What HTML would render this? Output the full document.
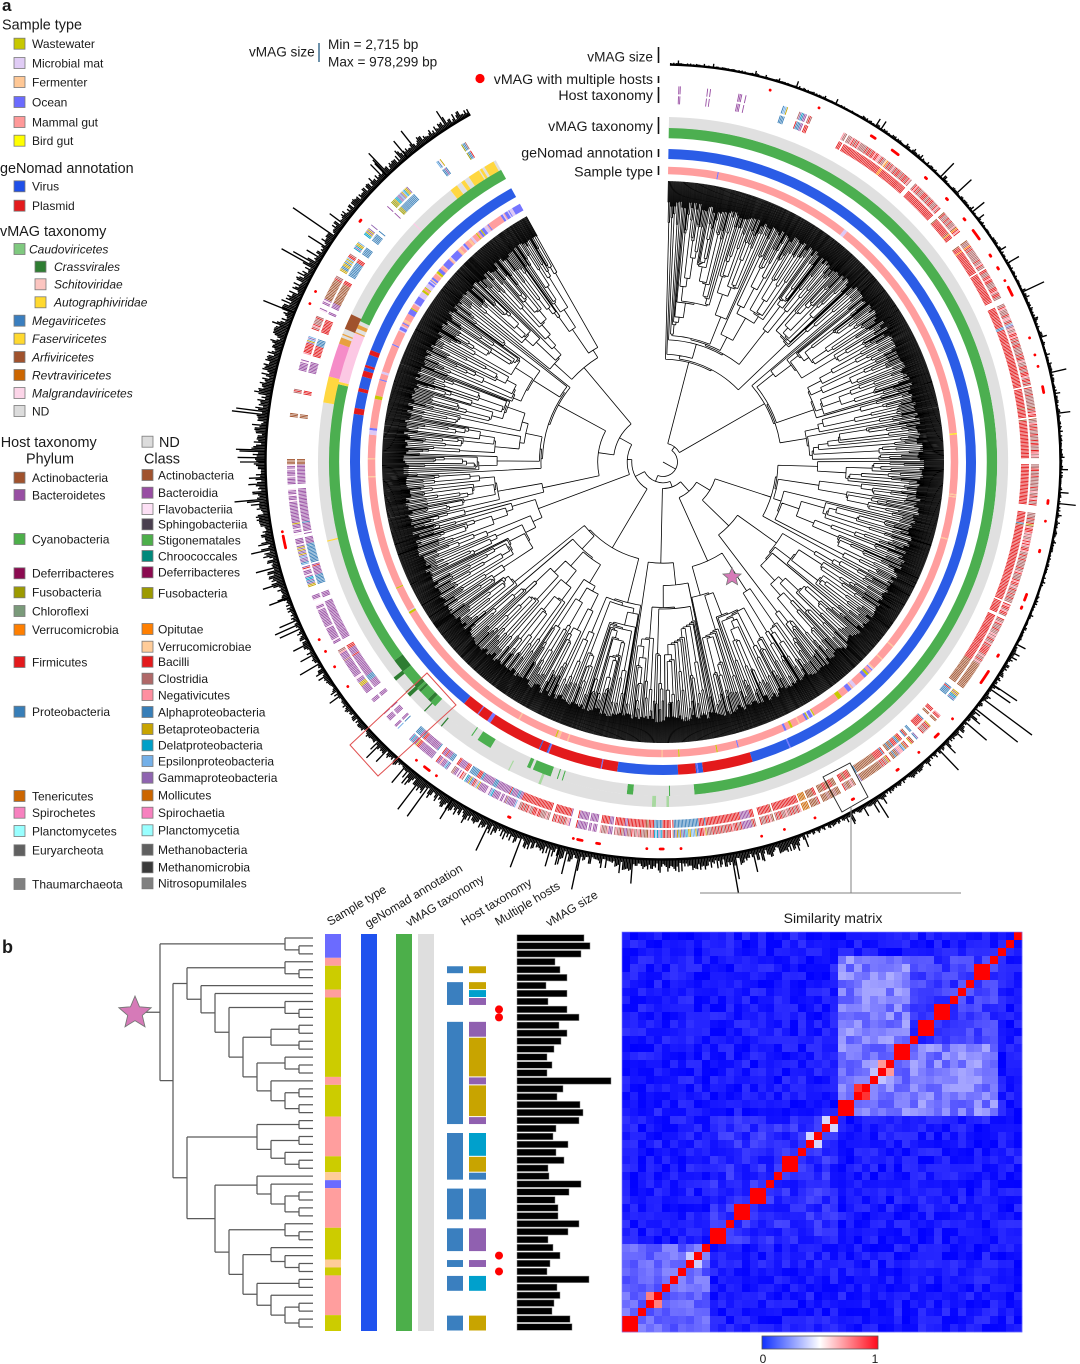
<!DOCTYPE html>
<html><head><meta charset="utf-8">
<style>
html,body{margin:0;padding:0;background:#fff;}
svg{display:block;}
text{font-family:"Liberation Sans",Arial,sans-serif;fill:#1a1a1a;}
.h{font-size:14.4px;}
.i{font-size:12px;}
.it{font-size:12px;font-style:italic;}
.t{font-size:13.6px;}
.t2{font-size:14.2px;}
.sw{stroke:#7a7a7a;stroke-width:0.8;}
</style></head><body>
<svg id="s" xmlns="http://www.w3.org/2000/svg" width="1080" height="1364" viewBox="0 0 1080 1364">
<rect width="1080" height="1364" fill="#fff"/>
<g id="circ"></g>
<g id="pb"></g>

<!-- panel labels -->
<text x="2" y="11" font-size="17" font-weight="bold">a</text>
<text x="2" y="953" font-size="18" font-weight="bold">b</text>

<!-- legend: sample type -->
<text class="h" x="2" y="29.5">Sample type</text>
<rect class="sw" x="14" y="38.2" width="11" height="11" fill="#c8c800"/><text class="i" x="32" y="48">Wastewater</text>
<rect class="sw" x="14" y="57.5" width="11" height="11" fill="#e0ccf5"/><text class="i" x="32" y="67.3">Microbial mat</text>
<rect class="sw" x="14" y="76.5" width="11" height="11" fill="#ffc896"/><text class="i" x="32" y="86.3">Fermenter</text>
<rect class="sw" x="14" y="96.5" width="11" height="11" fill="#6b6bff"/><text class="i" x="32" y="106.3">Ocean</text>
<rect class="sw" x="14" y="116.5" width="11" height="11" fill="#ff9999"/><text class="i" x="32" y="126.3">Mammal gut</text>
<rect class="sw" x="14" y="135.2" width="11" height="11" fill="#ffff00"/><text class="i" x="32" y="145">Bird gut</text>

<text class="h" x="0" y="172.9">geNomad annotation</text>
<rect class="sw" x="14" y="180.8" width="11" height="11" fill="#1f4fe8"/><text class="i" x="32" y="190.6">Virus</text>
<rect class="sw" x="14" y="200.2" width="11" height="11" fill="#e31a1c"/><text class="i" x="32" y="210">Plasmid</text>

<text class="h" x="0" y="236.2">vMAG taxonomy</text>
<rect class="sw" x="14" y="243.5" width="11" height="11" fill="#7fc97f"/><text class="it" x="29" y="253.3">Caudoviricetes</text>
<rect class="sw" x="35" y="261.2" width="11" height="11" fill="#2e7d32"/><text class="it" x="54" y="271">Crassvirales</text>
<rect class="sw" x="35" y="278.8" width="11" height="11" fill="#fcc5c0"/><text class="it" x="54" y="288.6">Schitoviridae</text>
<rect class="sw" x="35" y="296.8" width="11" height="11" fill="#ffd92f"/><text class="it" x="54" y="306.6">Autographiviridae</text>
<rect class="sw" x="14" y="315.2" width="11" height="11" fill="#3a7ebf"/><text class="it" x="32" y="325">Megaviricetes</text>
<rect class="sw" x="14" y="333.2" width="11" height="11" fill="#ffd92f"/><text class="it" x="32" y="343">Faserviricetes</text>
<rect class="sw" x="14" y="351.5" width="11" height="11" fill="#a0522d"/><text class="it" x="32" y="361.3">Arfiviricetes</text>
<rect class="sw" x="14" y="369.5" width="11" height="11" fill="#cc6600"/><text class="it" x="32" y="379.3">Revtraviricetes</text>
<rect class="sw" x="14" y="387.5" width="11" height="11" fill="#fcd5e8"/><text class="it" x="32" y="397.3">Malgrandaviricetes</text>
<rect class="sw" x="14" y="405.5" width="11" height="11" fill="#dcdcdc"/><text class="i" x="32" y="415.3">ND</text>

<!-- host taxonomy legend -->
<text class="h" x="0.7" y="446.9">Host taxonomy</text>
<text class="h" x="26" y="463.5">Phylum</text>
<rect class="sw" x="142" y="436.2" width="11" height="11" fill="#dcdcdc"/><text class="h" x="159" y="446.9">ND</text>
<text class="h" x="144" y="463.5">Class</text>

<rect class="sw" x="14" y="472.2" width="11" height="11" fill="#a0522d"/><text class="i" x="32" y="482">Actinobacteria</text>
<rect class="sw" x="14" y="489.5" width="11" height="11" fill="#984ea3"/><text class="i" x="32" y="499.3">Bacteroidetes</text>
<rect class="sw" x="14" y="533.5" width="11" height="11" fill="#4daf4a"/><text class="i" x="32" y="543.3">Cyanobacteria</text>
<rect class="sw" x="14" y="567.8" width="11" height="11" fill="#8b0a50"/><text class="i" x="32" y="577.6">Deferribacteres</text>
<rect class="sw" x="14" y="586.8" width="11" height="11" fill="#9c9a00"/><text class="i" x="32" y="596.6">Fusobacteria</text>
<rect class="sw" x="14" y="605.5" width="11" height="11" fill="#7a9a7a"/><text class="i" x="32" y="615.3">Chloroflexi</text>
<rect class="sw" x="14" y="624.2" width="11" height="11" fill="#ff7f00"/><text class="i" x="32" y="634">Verrucomicrobia</text>
<rect class="sw" x="14" y="656.5" width="11" height="11" fill="#e31a1c"/><text class="i" x="32" y="666.3">Firmicutes</text>
<rect class="sw" x="14" y="706.2" width="11" height="11" fill="#377eb8"/><text class="i" x="32" y="716">Proteobacteria</text>
<rect class="sw" x="14" y="790.5" width="11" height="11" fill="#cc6600"/><text class="i" x="32" y="800.3">Tenericutes</text>
<rect class="sw" x="14" y="807.2" width="11" height="11" fill="#f781bf"/><text class="i" x="32" y="817">Spirochetes</text>
<rect class="sw" x="14" y="825.5" width="11" height="11" fill="#99ffff"/><text class="i" x="32" y="835.3">Planctomycetes</text>
<rect class="sw" x="14" y="844.8" width="11" height="11" fill="#606060"/><text class="i" x="32" y="854.6">Euryarcheota</text>
<rect class="sw" x="14" y="878.5" width="11" height="11" fill="#808080"/><text class="i" x="32" y="888.3">Thaumarchaeota</text>

<rect class="sw" x="142" y="469.5" width="11" height="11" fill="#a0522d"/><text class="i" x="158" y="479.3">Actinobacteria</text>
<rect class="sw" x="142" y="487.2" width="11" height="11" fill="#984ea3"/><text class="i" x="158" y="497">Bacteroidia</text>
<rect class="sw" x="142" y="503.5" width="11" height="11" fill="#fde0f5"/><text class="i" x="158" y="513.3">Flavobacteriia</text>
<rect class="sw" x="142" y="518.8" width="11" height="11" fill="#4a3f4f"/><text class="i" x="158" y="528.6">Sphingobacteriia</text>
<rect class="sw" x="142" y="534.5" width="11" height="11" fill="#4daf4a"/><text class="i" x="158" y="544.3">Stigonematales</text>
<rect class="sw" x="142" y="550.5" width="11" height="11" fill="#00897b"/><text class="i" x="158" y="560.3">Chroococcales</text>
<rect class="sw" x="142" y="566.8" width="11" height="11" fill="#8b0a50"/><text class="i" x="158" y="576.6">Deferribacteres</text>
<rect class="sw" x="142" y="587.5" width="11" height="11" fill="#9c9a00"/><text class="i" x="158" y="597.3">Fusobacteria</text>
<rect class="sw" x="142" y="623.5" width="11" height="11" fill="#ff7f00"/><text class="i" x="158" y="633.3">Opitutae</text>
<rect class="sw" x="142" y="641.2" width="11" height="11" fill="#ffcc99"/><text class="i" x="158" y="651">Verrucomicrobiae</text>
<rect class="sw" x="142" y="656.2" width="11" height="11" fill="#e31a1c"/><text class="i" x="158" y="666">Bacilli</text>
<rect class="sw" x="142" y="673.2" width="11" height="11" fill="#b06868"/><text class="i" x="158" y="683">Clostridia</text>
<rect class="sw" x="142" y="689.5" width="11" height="11" fill="#ff8fa0"/><text class="i" x="158" y="699.3">Negativicutes</text>
<rect class="sw" x="142" y="706.5" width="11" height="11" fill="#377eb8"/><text class="i" x="158" y="716.3">Alphaproteobacteria</text>
<rect class="sw" x="142" y="723.5" width="11" height="11" fill="#c8a400"/><text class="i" x="158" y="733.3">Betaproteobacteria</text>
<rect class="sw" x="142" y="739.8" width="11" height="11" fill="#00a0c8"/><text class="i" x="158" y="749.6">Delatproteobacteria</text>
<rect class="sw" x="142" y="755.5" width="11" height="11" fill="#74b0e8"/><text class="i" x="158" y="765.3">Epsilonproteobacteria</text>
<rect class="sw" x="142" y="772.2" width="11" height="11" fill="#8f64b0"/><text class="i" x="158" y="782">Gammaproteobacteria</text>
<rect class="sw" x="142" y="789.8" width="11" height="11" fill="#cc6600"/><text class="i" x="158" y="799.6">Mollicutes</text>
<rect class="sw" x="142" y="807.2" width="11" height="11" fill="#f781bf"/><text class="i" x="158" y="817">Spirochaetia</text>
<rect class="sw" x="142" y="824.8" width="11" height="11" fill="#99ffff"/><text class="i" x="158" y="834.6">Planctomycetia</text>
<rect class="sw" x="142" y="844.2" width="11" height="11" fill="#606060"/><text class="i" x="158" y="854">Methanobacteria</text>
<rect class="sw" x="142" y="861.8" width="11" height="11" fill="#3a3a3a"/><text class="i" x="158" y="871.6">Methanomicrobia</text>
<rect class="sw" x="142" y="877.8" width="11" height="11" fill="#808080"/><text class="i" x="158" y="887.6">Nitrosopumilales</text>

<!-- top labels of circle -->
<text class="t" x="249" y="56.5">vMAG size</text>
<line x1="319" y1="43" x2="319" y2="62" stroke="#3d6e8f" stroke-width="1.5"/>
<text class="t" x="328" y="49">Min = 2,715 bp</text>
<text class="t" x="328" y="66.5">Max = 978,299 bp</text>

<text class="t" x="653" y="61.5" text-anchor="end">vMAG size</text>
<circle cx="480" cy="78.5" r="4.6" fill="#ff0000"/>
<text class="t2" x="653" y="83.8" text-anchor="end">vMAG with multiple hosts</text>
<text class="t2" x="653" y="99.8" text-anchor="end">Host taxonomy</text>
<text class="t2" x="653" y="130.8" text-anchor="end">vMAG taxonomy</text>
<text class="t2" x="653" y="157.5" text-anchor="end">geNomad annotation</text>
<text class="t2" x="653" y="176.5" text-anchor="end">Sample type</text>
<g stroke="#111" stroke-width="1.6">
<line x1="658.5" y1="47" x2="658.5" y2="63"/>
<line x1="658.5" y1="76" x2="658.5" y2="83"/>
<line x1="658.5" y1="87" x2="658.5" y2="103"/>
<line x1="658.5" y1="117" x2="658.5" y2="134"/>
<line x1="658.5" y1="149" x2="658.5" y2="157"/>
<line x1="658.5" y1="166" x2="658.5" y2="175"/>
</g>

<!-- highlight boxes and connector -->
<polygon points="350,745 427,673 456,705 378,776" fill="none" stroke="#e05050" stroke-width="1"/>
<polygon points="823,777 850,763 868,797 842,812" fill="none" stroke="#222" stroke-width="0.9"/>
<line x1="851" y1="806" x2="851" y2="893" stroke="#808080" stroke-width="1"/>
<line x1="700" y1="893" x2="961" y2="893" stroke="#808080" stroke-width="1"/>
<polygon id="star1" fill="#d67ab8" stroke="#777" stroke-width="0.8" points=""/>

<!-- panel b labels -->
<text class="i" font-size="12.5" transform="translate(330,926) rotate(-31)">Sample type</text>
<text class="i" font-size="12.5" transform="translate(368,928) rotate(-31)">geNomad annotation</text>
<text class="i" font-size="12.5" transform="translate(409,927) rotate(-31)">vMAG taxonomy</text>
<text class="i" font-size="12.5" transform="translate(464,926) rotate(-31)">Host taxonomy</text>
<text class="i" font-size="12.5" transform="translate(498,926) rotate(-31)">Multiple hosts</text>
<text class="i" font-size="12.5" transform="translate(549,927) rotate(-31)">vMAG size</text>
<text x="833" y="923" font-size="14" text-anchor="middle">Similarity matrix</text>
<defs><linearGradient id="cb" x1="0" x2="1" y1="0" y2="0">
<stop offset="0" stop-color="#1030ff"/><stop offset="0.5" stop-color="#ffffff"/><stop offset="1" stop-color="#ff0a1a"/></linearGradient></defs>
<rect x="762" y="1336" width="116" height="13" fill="url(#cb)" stroke="#555" stroke-width="0.8"/>
<text class="i" x="763" y="1363" text-anchor="middle">0</text>
<text class="i" x="875" y="1363" text-anchor="middle">1</text>
<polygon id="star2" fill="#d67ab8" stroke="#777" stroke-width="0.9" points=""/>
</svg>
<script>
(function(){
var NS='http://www.w3.org/2000/svg';
function mulberry32(a){return function(){a|=0;a=a+0x6D2B79F5|0;var t=Math.imul(a^a>>>15,1|a);t=t+Math.imul(t^t>>>7,61|t)^t;return((t^t>>>14)>>>0)/4294967296;};}
var R=mulberry32(20240611);
var cx=663,cy=462,A0=1,A1=331,N=1500,step=(A1-A0)/N;
function th(i){return A0+(i+0.5)*step;}
function P(r,d){var a=d*Math.PI/180;return (cx+r*Math.sin(a)).toFixed(2)+','+(cy-r*Math.cos(a)).toFixed(2);}
function arc(r,d0,d1){return 'M'+P(r,d0)+'A'+r+','+r+' 0 '+((d1-d0)>180?1:0)+' 1 '+P(r,d1);}
function add(par,tag,attrs){var e=document.createElementNS(NS,tag);for(var k in attrs)e.setAttribute(k,attrs[k]);par.appendChild(e);return e;}
var G=document.getElementById('circ');

/* ---------- tree ---------- */
var td=[],tl=[];
function nodeR(n,pr){var t;if(n>220)t=pr+4+R()*12;else t=282-35*Math.log(n)*(0.85+R()*0.3);
 if(t<pr+1.5)t=pr+1.5;if(t>280.8)t=Math.max(280.8,pr);return t;}
function build(lo,hi,pr){var n=hi-lo;
 if(n===1){var a0=th(lo);tl.push('M'+P(pr,a0)+'L'+P(281,a0));return a0;}
 var r=nodeR(n,pr),k;
 if(n>220){k=Math.round(n*(0.2+R()*0.6));}
 else if(R()<0.4){var s=1+Math.floor(R()*Math.min(3,n-1));k=R()<0.5?s:n-s;}
 else k=Math.round(n*(0.12+R()*0.76));
 k=Math.max(1,Math.min(n-1,k));
 var a1=build(lo,lo+k,r),a2=build(lo+k,hi,r);var a=(a1+a2)/2;
 td.push('M'+P(pr,a)+'L'+P(r,a));td.push(arc(r,a1,a2));return a;}
build(0,N,0);
add(G,'path',{d:td.join(''),fill:'none',stroke:'#000','stroke-width':'0.8'});
add(G,'path',{d:tl.join(''),fill:'none',stroke:'#000','stroke-width':'0.95'});

/* ---------- helpers ---------- */
function pickE(pal){var s=0,i;for(i=0;i<pal.length;i++)s+=pal[i][1];var u=R()*s;for(i=0;i<pal.length;i++){u-=pal[i][1];if(u<=0)return pal[i];}return pal[pal.length-1];}
function pick(pal){return pickE(pal)[0];}
function gen(regs){var arr=new Array(N),i=0;while(i<N){var d=th(i),reg=regs[regs.length-1];
 for(var g=0;g<regs.length;g++){if(d>=regs[g][0]&&d<regs[g][1]){reg=regs[g];break;}}
 var e=pickE(reg[2]);var mr=(e.length>2)?e[2]:reg[3];var L=1+Math.floor(-Math.log(1-R())*mr);
 for(var k=0;k<L&&i<N;k++)arr[i++]=e[0];}return arr;}
function ring(colors,r,w){var by={},i=0;while(i<N){var c=colors[i],j=i;while(j+1<N&&colors[j+1]===c)j++;
 if(c){(by[c]=by[c]||[]).push(arc(r,th(i)-step/2,th(j)+step/2));}i=j+1;}
 for(var c2 in by)add(G,'path',{d:by[c2].join(''),fill:'none',stroke:c2,'stroke-width':w});}
function ticks(colors,r,w){var by={};colors.forEach(function(c,i){if(c)(by[c]=by[c]||[]).push(arc(r,th(i)-step*0.32,th(i)+step*0.32));});
 for(var c in by)add(G,'path',{d:by[c].join(''),fill:'none',stroke:c,'stroke-width':w});}

var PINK='#ff9e9e',OCEAN='#7575ff',LAV='#dcc8f5',PEACH='#ffc896',OLIVE='#c8c800',YEL='#ffff00';
var BLUE='#2b5ce6',RED='#e31a1c',GREEN='#4caf50',DKG='#2e7d32',GRAY='#e0e0e0';

/* sample type ring */
ring(gen([
 [0,30,[[PINK,.94,8],[OCEAN,.03,0.3],[PEACH,.03,0.3]],5],
 [30,130,[[PINK,.9,6],[PEACH,.06,0.3],[OLIVE,.015,0.3],[LAV,.015,0.3],[YEL,.01,0.2]],4],
 [130,158,[[PINK,.45,3],[OCEAN,.2,1],[LAV,.17,1],[OLIVE,.1,1],[PEACH,.08,0.5]],3],
 [158,245,[[PINK,.84,5],[PEACH,.08,0.4],[OLIVE,.05,0.5],[OCEAN,.015,0.3],[LAV,.015,0.3]],3],
 [245,275,[[PINK,.82,5],[OCEAN,.07,0.4],[LAV,.05,0.4],[PEACH,.03,0.3],[OLIVE,.03,0.3]],3],
 [275,296,[[PINK,.62,3],[OLIVE,.18,1.5],[OCEAN,.1,0.6],[LAV,.1,0.6]],3],
 [296,332,[[OCEAN,.35,2],[LAV,.3,2],[PINK,.2,2],[PEACH,.08,0.6],[OLIVE,.07,0.6]],3]
]),291.5,7.5);

/* geNomad ring */
ring(gen([
 [0,163,[[BLUE,.985,14],[RED,.01,0.4],[OCEAN,.005,0.3]],12],
 [163,176,[[RED,.8,6],[BLUE,.15,1],[OCEAN,.05,0.5]],4],
 [176,186,[[BLUE,.9,6],[RED,.1,1]],5],
 [186,219,[[RED,.72,6],[BLUE,.16,1.5],[OCEAN,.12,0.8]],3],
 [219,278,[[BLUE,.97,12],[RED,.03,0.6]],8],
 [278,292,[[BLUE,.55,3],[RED,.45,3]],3],
 [292,332,[[BLUE,.96,10],[RED,.04,0.6]],8]
]),308,10);

/* vMAG taxonomy inner */
ring(gen([
 [0,166,[[GREEN,.99,20],[GRAY,.01,0.3]],20],
 [166,219,[[GRAY,.68,5],[GREEN,.32,3]],4],
 [219,232,[[GREEN,.6],[DKG,.4]],3],
 [232,280,[[GREEN,.97,15],[GRAY,.03,0.5]],10],
 [280,284,[['#ffd740',1]],3],
 [284,290,[['#fcc8e4',1]],3],
 [290,295,[['#e8a040',.4],[GRAY,.3],['#a0522d',.3]],2],
 [295,332,[[GREEN,.95,12],[DKG,.03,1],[GRAY,.02,0.5]],10]
]),329,10.5);

/* vMAG taxonomy outer */
ring(gen([
 [0,166,[[GRAY,.995,20],['#ffd740',.005,0.5]],20],
 [166,219,[[GRAY,.9,6],['#a8d8a0',.1,1]],3],
 [219,232,[[GRAY,.6],[DKG,.4]],3],
 [232,280,[[GRAY,.97,10],['#ffd740',.03,0.5]],10],
 [280,284,[['#ffd740',1]],3],
 [284,290,[['#f58cc8',1]],3],
 [290,295,[['#e8a040',.4],[GRAY,.3],['#a0522d',.3]],2],
 [295,320,[[GRAY,.93,10],[DKG,.03,1],['#ffd740',.02,1],['#fcc8e4',.02,1]],8],
 [320,332,[['#ffd740',.7],[GRAY,.3]],3]
]),339.5,11);

/* host taxonomy */
var FI='#e31a1c',BA='#984ea3',PR='#377eb8',AC='#a0522d',VE='#ff7f00',TE='#cc6600',FU='#9c9a00',CY='#4daf4a',EU='#606060';
var phy=gen([
 [0,28,[[null,.7,3],[FI,.12],[BA,.12],[PR,.06]],2],
 [28,122,[[null,.1,1.5],[FI,.8,5],[VE,.03,1],[AC,.03,1],[PR,.02,1],[BA,.02,1]],3],
 [122,158,[[null,.12,1.5],[AC,.3],[PR,.25],[FI,.2],[BA,.05],[TE,.05]],2],
 [158,200,[[null,.12,1.5],[FI,.55,4],[BA,.13],[PR,.13],[AC,.04]],3],
 [200,222,[[null,.15,1.5],[BA,.32],[PR,.24],[FI,.24]],2],
 [222,232,[[null,.7],[BA,.2],[PR,.1]],2],
 [232,268,[[null,.2,2],[BA,.65,4],[PR,.07],[FI,.03]],3],
 [268,300,[[null,.55,3],[FI,.27],[BA,.09],[PR,.05],[AC,.04]],3],
 [300,332,[[null,.45,2],[PR,.33],[BA,.08],[FI,.06],[FU,.03],[CY,.03],[EU,.02]],2]
]);
var CLS={};
CLS[FI]=[['#e31a1c',.35],['#b06868',.55],['#ff8fa0',.1]];
CLS[BA]=[['#984ea3',.85],['#fde0f5',.15]];
CLS[PR]=[['#377eb8',.2],['#c8a400',.25],['#00a0c8',.15],['#74b0e8',.15],['#8f64b0',.25]];
CLS[AC]=[['#a0522d',1]];CLS[VE]=[['#ff7f00',.5],['#ffcc99',.5]];CLS[TE]=[['#cc6600',1]];
CLS[FU]=[['#9c9a00',1]];CLS[CY]=[['#4daf4a',.5],['#00897b',.5]];CLS[EU]=[['#606060',.5],['#3a3a3a',.5]];
var cls=phy.map(function(p){return p?pick(CLS[p]):null;});
ticks(phy,362,8);ticks(cls,372,8);

/* red dots */
var dots=gen([
 [0,30,[[null,.93,3],['#ff0000',.07,1]],1.5],
 [30,160,[[null,.8,3],['#ff0000',.2,1.5]],1.8],
 [160,260,[[null,.86,3],['#ff0000',.14,1.5]],1.8],
 [260,332,[[null,.92,3],['#ff0000',.08,1]],1.5]
]);
(function(){var d=[],i=0;while(i<N){var c=dots[i],j=i;while(j+1<N&&dots[j+1]===c)j++;
 if(c)d.push(arc(387,th(i),th(j)+0.01));i=j+1;}
 add(G,'path',{d:d.join(''),fill:'none',stroke:'#ff0000','stroke-width':'2.8','stroke-linecap':'round'});})();

/* vMAG size bars */
function baseLen(d){if(d<30)return 2.2;if(d<118)return 3;if(d<132)return 5;if(d<160)return 5;if(d<220)return 12;if(d<250)return 7;if(d<300)return 13;return 9;}
var sd=[];
for(var i=0;i<N;i++){var d=th(i),b=baseLen(d);var L=b*(0.35+0.8*R());if(R()<0.15)L+=b*1.1*(-Math.log(1-R()));
 if(R()<0.004)L=15+R()*18;L=Math.min(L,40);
 if(L>0.6)sd.push('M'+P(397,d)+'L'+P(397+L,d));}
[[126.5,62],[128.3,55],[124,30],[304.5,52],[292,34],[270,26],[250,22],[212,24],[195,20],[96,18],[60,14],[320,22],[316,18]].forEach(function(s){sd.push('M'+P(397,s[0])+'L'+P(397+s[1],s[0]));});
add(G,'path',{d:sd.join(''),stroke:'#000','stroke-width':'1.35',fill:'none'});
add(G,'path',{d:arc(397.5,A0,A1),stroke:'#000','stroke-width':'2.4',fill:'none'});

/* stars */
function star(id,x,y,ro){var pts=[];for(var k=0;k<10;k++){var rr=(k%2===0)?ro:ro*0.45;var a=k*Math.PI/5;pts.push((x+rr*Math.sin(a)).toFixed(2)+','+(y-rr*Math.cos(a)).toFixed(2));}
 document.getElementById(id).setAttribute('points',pts.join(' '));}
star('star1',732,577,9.5);
star('star2',135,1013,17);

/* ---------- panel b ---------- */
var pb=document.getElementById('pb');
function rowY(i){return 934+7.94*i;}
function dyc(i){return 934+7.94*(i+0.5);}
var segs=[];
function lay(node){if(typeof node==='number')return {x:313,y:dyc(node)};
 var x=node[0],A=lay(node[1]),B=lay(node[2]);
 segs.push('M'+x+','+A.y.toFixed(2)+'H'+A.x+'M'+x+','+B.y.toFixed(2)+'H'+B.x+'M'+x+','+A.y.toFixed(2)+'V'+B.y.toFixed(2));
 return {x:x,y:(A.y+B.y)/2};}
var I_=[257,[285,15,[299,16,17]],[271,18,[285,[299,19,20],[299,21,22]]]];
var Gn=[243,[271,[299,11,12],[299,13,14]],I_];
var E_=[229,[285,8,[299,9,10]],Gn];
var D_=[215,7,E_];var C_=[201,6,D_];
var B1=[187,[285,3,[299,4,5]],C_];
var Pn=[257,[299,23,24],[271,[299,25,26],[285,27,[299,28,29]]]];
var Rn=[257,30,[271,31,[285,[299,32,33],[299,34,35]]]];
var Sn=[285,36,[299,37,38]];
var Tn=[271,39,[285,40,[299,41,42]]];
var Un=[257,[299,43,44],[271,45,[285,[299,46,47],[299,48,49]]]];
var Qn=[215,Rn,[229,Sn,[243,Tn,Un]]];
var B2=[187,Pn,Qn];
var root=lay([160,[285,0,[299,1,2]],[173,B1,B2]]);
segs.push('M143,'+root.y.toFixed(2)+'H160');
add(pb,'path',{d:segs.join(''),fill:'none',stroke:'#5a5a5a','stroke-width':'1.25'});

function blocks(list,x,w,inset){list.forEach(function(b){var y0=rowY(b[0])+inset,y1=rowY(b[1]+1)-inset;
 add(pb,'rect',{x:x,y:y0.toFixed(2),width:w,height:(y1-y0).toFixed(2),fill:b[2]});});}
var OC='#6b6bff',PK='#ff9e9e',OL='#cccc00',PE='#ffcc99';
blocks([[0,2,OC],[3,3,PK],[4,6,OL],[7,7,PK],[8,17,OL],[18,18,PK],[19,22,OL],[23,27,PK],[28,29,OL],[30,30,PE],[31,31,OC],[32,36,PK],[37,40,OL],[41,41,PE],[42,42,OL],[43,47,PK],[48,49,OL]],325,16,0);
blocks([[0,49,'#1f52ee']],361,16,0);
blocks([[0,49,'#4caf4a']],396,16,0);
blocks([[0,49,'#dedede']],418,16,0);
var PB='#3a7fbf';
blocks([[4,4,PB],[6,8,PB],[11,23,PB],[25,30,PB],[32,35,PB],[37,39,PB],[41,41,PB],[43,44,PB],[48,49,PB]],447,16,0.5);
var GD='#c8a400',CYN='#00a0cc',PU='#9060b0';
blocks([[4,4,GD],[6,6,GD],[7,7,CYN],[8,8,PU],[11,12,PU],[13,17,GD],[18,18,PU],[19,22,GD],[23,23,PU],[25,27,CYN],[28,29,GD],[30,30,PB],[32,35,PB],[37,39,PU],[41,41,PU],[43,44,CYN],[48,49,GD]],469,17,0.5);
[9,10,40,42].forEach(function(i){add(pb,'circle',{cx:499,cy:dyc(i).toFixed(2),r:4,fill:'#ff0000'});});
var ends=[584,590,581,555,560,567,546,567,548,567,579,559,567,561,554,547,552,547,611,563,557,580,
 583,579,556,553,568,556,564,548,549,581,569,555,558,558,579,568,548,553,560,550,547,589,557,560,554,552,570,572];
ends.forEach(function(e,i){add(pb,'rect',{x:517,y:(rowY(i)+0.7).toFixed(2),width:e-517,height:6.5,fill:'#000',stroke:'#888','stroke-width':0.5});});

/* similarity matrix */
var V=[];for(var a=0;a<50;a++)V.push([]);
function inB(x,lo,hi){return x>=lo&&x<=hi;}
for(var p=0;p<50;p++)for(var q=p;q<50;q++){var v;
 if(p===q)v=1;else{v=R()*0.1;
  if(inB(p,3,22)&&inB(q,3,22)){ if(q>=14) v=0.16+R()*0.18; else v=0.05+R()*0.13; }
  else if(inB(p,39,49)&&inB(q,39,49))v=0.12+R()*0.15;
  else if(inB(p,23,38)&&inB(q,23,38))v=0.03+R()*0.12;}
 V[p][q]=v;V[q][p]=v;}
[[4,5,1],[9,10,1],[11,12,1],[14,15,1],[16,17,0.7],[19,20,0.9],[21,22,1],[23,24,0.42],[25,26,0.42],[28,29,1],[32,33,1],[34,35,1],[37,38,1],[40,41,0.4],[45,46,0.75],[48,49,1],[17,18,0.38],[13,16,0.33]].forEach(function(t){V[t[0]][t[1]]=t[2];V[t[1]][t[0]]=t[2];});
function cm(v){var r,g,b;if(v<0.5){var t=v/0.5;r=g=Math.round(255*t);b=255;}else{var t2=(v-0.5)/0.5;r=255;g=b=Math.round(255*(1-t2));}return 'rgb('+r+','+g+','+b+')';}
var mg=add(pb,'g',{});
for(var rr=0;rr<50;rr++)for(var c=0;c<50;c++){
 add(mg,'rect',{x:622+8*c,y:932+8*rr,width:8.3,height:8.3,fill:cm(V[rr][49-c])});}
add(pb,'rect',{x:622,y:932,width:400,height:400,fill:'none',stroke:'#8080ff','stroke-width':0.6});
})();
</script>
</body></html>
